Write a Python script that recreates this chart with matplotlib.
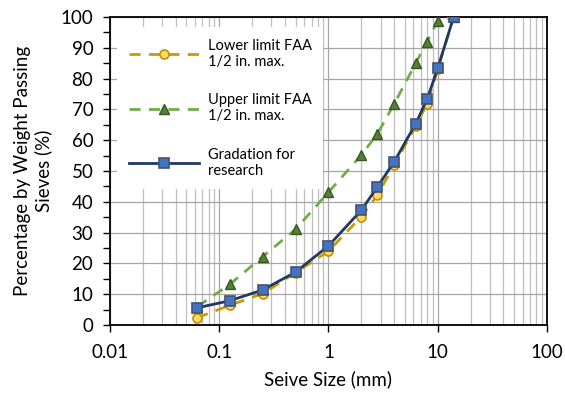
import numpy as np
import matplotlib
matplotlib.use("Agg")
import matplotlib.pyplot as plt
from matplotlib.ticker import LogLocator, FixedLocator, NullFormatter, FuncFormatter

plt.rcParams['font.family'] = ['Lato', 'DejaVu Sans']

# sieve sizes (mm)
sieve = [0.063, 0.125, 0.25, 0.5, 1, 2, 2.8, 4, 6.3, 8, 10, 14]
lower = [2.4, 6.4, 10.2, 17, 24, 35.2, 42.1, 52, 64.6, 71.8, 83, 100]
upper = [6, 13.2, 22.2, 31.1, 43.1, 55.2, 62, 71.8, 85, 92, 98.8, 100]
gradation = [5.6, 7.9, 11.4, 17.2, 25.7, 37.3, 44.8, 53, 65.4, 73.3, 83.3, 100]

fig = plt.figure(figsize=(5.65, 3.94), dpi=100)
ax = fig.add_axes([0.1947, 0.175, 0.7733, 0.782])

ax.plot(sieve, lower, color='#C99A06', lw=2, dashes=(4, 3), marker='o',
        ms=6.5, mfc='#FFD966', mec='#BF9000', mew=1.2,
        label='Lower limit FAA\n1/2 in. max.', zorder=3)
ax.plot(sieve, upper, color='#70AD47', lw=2, dashes=(4, 3), marker='^',
        ms=7, mfc='#548235', mec='#375623', mew=1.0,
        label='Upper limit FAA\n1/2 in. max.', zorder=4)
ax.plot(sieve, gradation, color='#203864', lw=2, marker='s',
        ms=7, mfc='#4472C4', mec='#44546A', mew=1.2,
        label='Gradation for\nresearch', zorder=5)

ax.set_xscale('log')
ax.set_xlim(0.01, 100)
ax.set_ylim(0, 100)

ax.xaxis.set_major_locator(LogLocator(base=10, numticks=10))
ax.xaxis.set_minor_locator(LogLocator(base=10, subs=np.arange(2, 10), numticks=20))
ax.xaxis.set_minor_formatter(NullFormatter())
ax.xaxis.set_major_formatter(FuncFormatter(lambda v, p: f'{v:g}'))
ax.yaxis.set_major_locator(FixedLocator(np.arange(0, 101, 10)))
ax.yaxis.set_minor_locator(FixedLocator(np.arange(5, 100, 10)))

ax.grid(True, which='major', axis='both', color='#A6A6A6', lw=0.9)
ax.grid(True, which='minor', axis='x', color='#BFBFBF', lw=0.9)
ax.set_axisbelow(True)

ax.tick_params(axis='x', which='major', direction='out', length=5, width=1,
               labelsize=13.5, pad=9)
ax.tick_params(axis='x', which='minor', length=0)
ax.tick_params(axis='y', which='both', direction='out', length=5, width=1,
               labelsize=13.5, pad=7)
for s in ax.spines.values():
    s.set_color('black')
    s.set_linewidth(1.3)

ax.set_xlabel('Seive Size (mm)', fontsize=13.5, labelpad=6)
ax.set_ylabel('Percentage by Weight Passing\nSieves (%)', fontsize=13.5, labelpad=6)

leg = ax.legend(loc='upper left', bbox_to_anchor=(0.0, 0.99), fontsize=10.5,
                handlelength=4.8, labelspacing=1.65, frameon=True,
                fancybox=False, framealpha=1, borderpad=0.8, handletextpad=0.6)
leg.get_frame().set_edgecolor('none')
leg.get_frame().set_facecolor('white')
leg.set_zorder(6)
for t in leg.get_texts():
    t.set_linespacing(1.2)

fig.savefig('out.png', dpi=100)
